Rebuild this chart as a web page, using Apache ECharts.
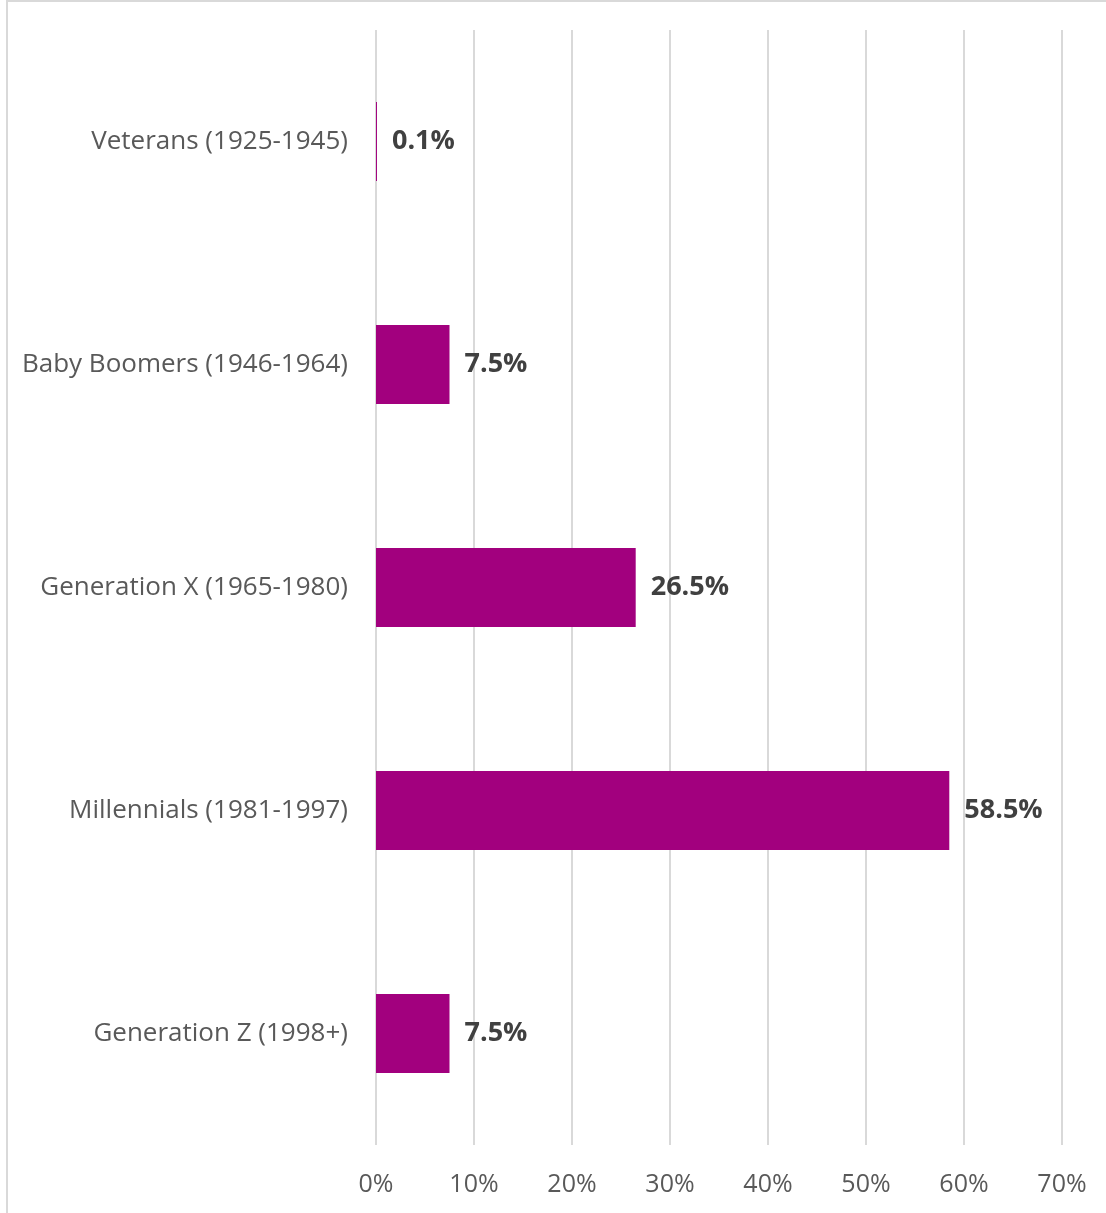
<!DOCTYPE html>
<html>
<head>
<meta charset="utf-8">
<script src="https://cdn.jsdelivr.net/npm/echarts@6/dist/echarts.min.js"></script>
<style>
  html, body { margin: 0; padding: 0; background: #ffffff; }
  #chart { width: 1106px; height: 1213px; }
</style>
</head>
<body>
<div id="chart"></div>
<script>
// Share of respondents by generation
const categories = [
  'Veterans (1925-1945)',
  'Baby Boomers (1946-1964)',
  'Generation X (1965-1980)',
  'Millennials (1981-1997)',
  'Generation Z (1998+)'
];
const shares = [0.1, 7.5, 26.5, 58.5, 7.5];
const axisMin = 0;
const axisMax = 70;
const axisStep = 10;

const chart = echarts.init(document.getElementById('chart'), null, { renderer: 'canvas' });

chart.setOption({
  animation: false,
  backgroundColor: '#ffffff',
  graphic: [{
    type: 'rect',
    shape: { x: 7, y: 1, width: 1200, height: 1300 },
    style: { fill: 'none', stroke: '#d9d9d9', lineWidth: 2 },
    silent: true,
    z: -1
  }],
  grid: { left: 376, right: 44, top: 30, bottom: 68, containLabel: false },
  xAxis: {
    type: 'value',
    min: axisMin,
    max: axisMax,
    interval: axisStep,
    axisLine: { show: false },
    axisTick: { show: false },
    splitLine: { show: true, lineStyle: { color: '#d9d9d9', width: 2 } },
    axisLabel: {
      formatter: v => v + '%',
      color: '#595959',
      fontFamily: 'Open Sans',
      fontSize: 25,
      margin: 27
    }
  },
  yAxis: {
    type: 'category',
    inverse: true,
    data: categories,
    axisLine: { show: false },
    axisTick: { show: false },
    axisLabel: {
      color: '#595959',
      fontFamily: 'Open Sans',
      fontSize: 26,
      margin: 28,
      padding: [2, 0, 0, 0]
    }
  },
  series: [{
    type: 'bar',
    data: shares,
    barWidth: 79,
    itemStyle: { color: '#a2007e' },
    label: {
      show: true,
      position: 'right',
      distance: 15,
      formatter: p => p.value.toFixed(1) + '%',
      color: '#404040',
      fontFamily: 'Open Sans',
      fontWeight: 'bold',
      fontSize: 27,
      padding: [3, 0, 0, 0]
    }
  }]
});
</script>
</body>
</html>
